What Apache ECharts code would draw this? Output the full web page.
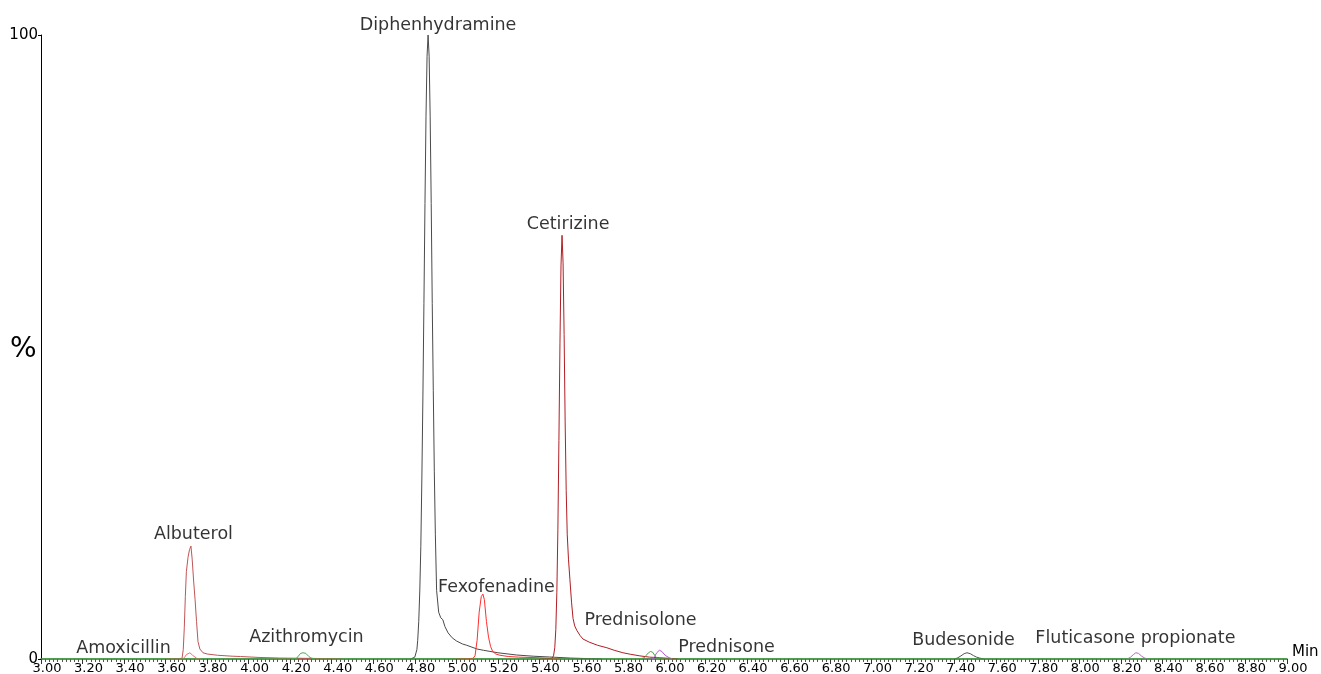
<!DOCTYPE html>
<html>
<head>
<meta charset="utf-8">
<script src="https://cdn.jsdelivr.net/npm/echarts@6/dist/echarts.min.js"></script>
<style>
html,body{margin:0;padding:0;background:#fff;}
#chart{width:1321px;height:674px;}
</style>
</head>
<body>
<div id="chart"></div>
<script>
// ---- data: [retention time (min), relative abundance (%)] ----
const albuterol = [[3.60,0],[3.679,0.1],[3.685,1.5],[3.69,5],[3.695,10],[3.70,14],[3.708,16.3],[3.715,17.5],[3.722,18.1],[3.728,16],[3.735,12.5],[3.742,9.5],[3.749,6],[3.756,2.8],[3.765,1.6],[3.78,1.0],[3.80,0.8],[3.85,0.6],[3.92,0.45],[3.96,0.4],[4.05,0.25],[4.15,0.15],[4.30,0.1],[4.40,0.05],[4.45,0]];
const minorRed = [[3.68,0],[3.69,0.2],[3.70,0.7],[3.717,1.0],[3.73,0.6],[3.75,0.1],[3.77,0]];
const azithromycin = [[3.00,0],[4.20,0],[4.23,0.1],[4.24,0.5],[4.25,0.9],[4.262,1.0],[4.275,0.9],[4.29,0.4],[4.30,0.15],[4.32,0],
  [5.88,0],[5.905,0.2],[5.915,0.6],[5.925,1.0],[5.935,1.2],[5.945,1.1],[5.955,0.6],[5.965,0.2],[5.98,0],[9.00,0]];
const diphenhydramine = [[4.78,0],[4.80,0.3],[4.81,1.5],[4.814,3],[4.819,6],[4.824,10.9],[4.829,18],[4.834,29],[4.839,42],[4.844,57],[4.849,73],[4.854,87],[4.859,96.6],[4.864,100],[4.869,96.6],[4.874,87],[4.879,73],[4.884,57],[4.889,43],[4.894,30],[4.899,20],[4.905,11],[4.915,7.5],[4.925,6.6],[4.935,6.3],[4.945,5.2],[4.96,4.2],[4.98,3.4],[5.00,2.9],[5.03,2.4],[5.05,2.2],[5.10,1.6],[5.13,1.4],[5.20,1.0],[5.29,0.64],[5.37,0.45],[5.45,0.32],[5.55,0.15],[5.65,0.05],[5.70,0]];
const fexofenadine = [[5.00,0],[5.08,0.1],[5.09,0.5],[5.10,3],[5.11,7.5],[5.12,10],[5.128,10.4],[5.135,9.5],[5.145,6],[5.155,3.5],[5.165,2],[5.175,1.2],[5.19,0.8],[5.21,0.6],[5.25,0.4],[5.30,0.3],[5.40,0.2],[5.45,0.1],[5.50,0]];
const cetirizine = [[5.40,0],[5.46,0.1],[5.468,0.5],[5.474,1.8],[5.479,4.7],[5.484,10.7],[5.489,20.8],[5.494,35],[5.499,50.5],[5.504,63],[5.509,67.9],[5.514,63.5],[5.519,52],[5.524,38],[5.529,27],[5.534,20],[5.54,16],[5.547,12.7],[5.555,9],[5.562,6.5],[5.57,5.3],[5.58,4.6],[5.588,4.4],[5.595,3.8],[5.61,3.2],[5.64,2.7],[5.68,2.2],[5.725,1.8],[5.76,1.4],[5.802,1.0],[5.84,0.75],[5.884,0.5],[5.93,0.3],[5.98,0.2],[6.03,0.1],[6.07,0]];
const prednisone = [[5.94,0],[5.955,0.4],[5.965,1.0],[5.978,1.4],[5.99,1.2],[6.00,0.8],[6.01,0.5],[6.025,0.2],[6.04,0]];
const budesonide = [[7.40,0],[7.415,0.2],[7.43,0.5],[7.445,0.85],[7.459,1.0],[7.475,0.85],[7.49,0.55],[7.505,0.3],[7.52,0.15],[7.54,0]];
const fluticasone = [[8.23,0],[8.245,0.25],[8.26,0.7],[8.272,1.0],[8.285,0.9],[8.30,0.45],[8.315,0.15],[8.33,0]];

// peak annotations
const labelNames  = ['Amoxicillin','Albuterol','Azithromycin','Diphenhydramine','Fexofenadine','Cetirizine','Prednisolone','Prednisone','Budesonide','Fluticasone propionate'];
const labelTimes  = [3.397, 3.734, 4.278, 4.912, 5.193, 5.538, 5.887, 6.301, 7.442, 8.270];
const labelLevels = [1.76, 20.0, 3.53, 101.6, 11.54, 69.7, 6.25, 1.92, 3.04, 3.37];

const yTicks = [0, 100];

const FONT = 'DejaVu Sans';
function trace(name, data, color, z) {
  return {
    name, type: 'line', data, showSymbol: false, symbol: 'none',
    lineStyle: { color, width: 1 }, z: z || 2, silent: true, animation: false
  };
}

const chart = echarts.init(document.getElementById('chart'), null, { renderer: 'canvas' });
chart.setOption({
  animation: false,
  backgroundColor: '#fff',
  textStyle: { fontFamily: FONT },
  graphic: [{
    type: 'text', left: 10, top: 336,
    style: { text: '%', fontFamily: FONT, fontSize: 28, fill: '#000' }
  }],
  grid: { left: 41, right: 34, top: 35, bottom: 15, containLabel: false, outerBoundsMode: 'none' },
  xAxis: {
    type: 'value', min: 3.0, max: 9.0, interval: 0.2,
    name: 'Min', nameLocation: 'end', nameGap: 5,
    nameTextStyle: { fontFamily: FONT, fontSize: 15, color: '#000', verticalAlign: 'bottom', padding: [0,0,-1,0] },
    axisLine: { show: true, onZero: false, lineStyle: { color: '#2f6b2f', width: 1.5 } },
    axisTick: { show: true, length: 5, lineStyle: { color: '#333' } },
    minorTick: { show: true, splitNumber: 10, length: 3, lineStyle: { color: '#555' } },
    splitLine: { show: false },
    axisLabel: { fontFamily: FONT, fontSize: 13, color: '#000', margin: 3, padding: [0,0,0,12],
      formatter: v => v.toFixed(2), showMinLabel: true, showMaxLabel: true }
  },
  yAxis: {
    type: 'value', min: 0, max: 100, interval: 100,
    axisLine: { show: true, onZero: false, lineStyle: { color: '#000', width: 1 } },
    axisTick: { show: true, length: 3, lineStyle: { color: '#000' } },
    splitLine: { show: false },
    axisLabel: { fontFamily: FONT, fontSize: 15, color: '#000', margin: 3,
      formatter: v => yTicks.indexOf(v) >= 0 ? String(v) : '' }
  },
  series: [
    trace('Diphenhydramine', diphenhydramine, '#4a4a4a', 3),
    trace('Budesonide', budesonide, '#555555', 3),
    trace('Albuterol', albuterol, '#c05555', 4),
    trace('minor', minorRed, '#ff6a6a', 4),
    trace('Fexofenadine', fexofenadine, '#ff2e2e', 4),
    trace('Cetirizine', cetirizine, '#b01e24', 4),
    trace('Prednisone', prednisone, '#b455d6', 5),
    trace('Fluticasone', fluticasone, '#c45cd0', 5),
    trace('Azithromycin', azithromycin, '#3fae3f', 6),
    {
      type: 'scatter', symbolSize: 0, clip: false, silent: true, z: 10,
      data: labelNames.map((n, i) => ({ name: n, value: [labelTimes[i], labelLevels[i]] })),
      label: { show: true, position: 'inside', formatter: p => p.name,
        fontFamily: FONT, fontSize: 17.5, color: '#000', textBorderWidth: 0 }
    }
  ]
});
</script>
</body>
</html>
